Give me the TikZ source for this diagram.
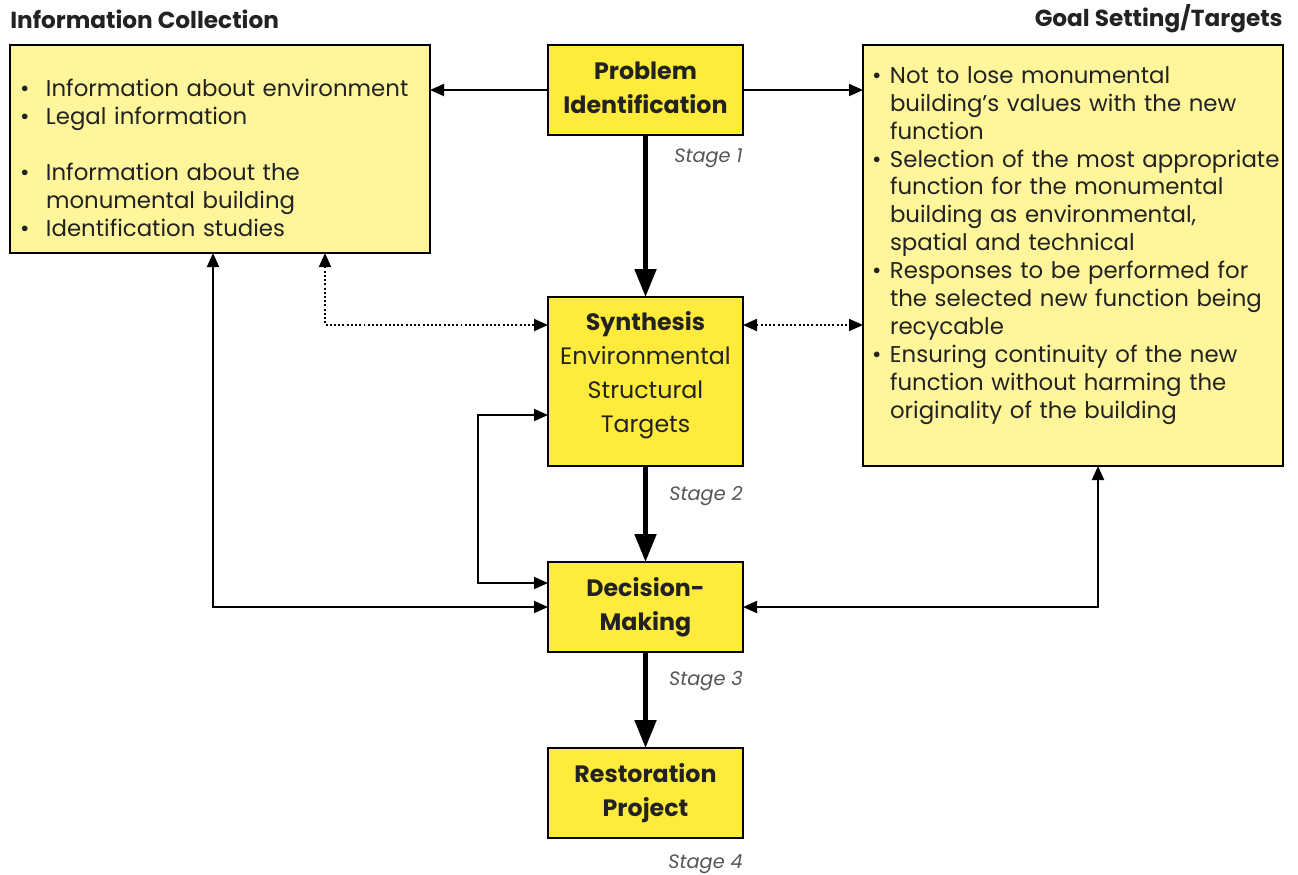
\documentclass[tikz,border=0pt]{standalone}
\usepackage{fontspec}
\setmainfont{Poppins}
\usetikzlibrary{arrows.meta, positioning}
\definecolor{boxyellow}{HTML}{FFEB3B}
\definecolor{paleyellow}{HTML}{FFF59A}
\definecolor{inktext}{HTML}{222222}
\definecolor{stagegray}{HTML}{555555}
\newcommand{\bul}[1]{\makebox[#1][l]{\textbullet}}
\tikzstyle{stagebox} = [rectangle, minimum width=3.9cm, minimum height=1.8cm, align=center, draw=black, line width=1.3pt, fill=boxyellow, text=inktext, inner sep=0pt, outer sep=0pt, font=\fontsize{13.5}{19.5}\selectfont]
\tikzstyle{boldbox} = [stagebox, font=\fontsize{13.5}{19.5}\selectfont\bfseries]
\tikzstyle{listbox} = [rectangle, minimum width=8.4cm, text width=8.4cm, align=left, draw=black, line width=1.3pt, fill=paleyellow, text=inktext, anchor=north west, inner ysep=0pt, outer sep=0pt, font=\fontsize{13}{15.9}\selectfont]
\tikzstyle{title} = [inner sep=0pt, text=inktext, font=\fontsize{13.2}{15}\selectfont\bfseries]
\tikzstyle{stagelabel} = [inner sep=0pt, text=stagegray, font=\fontsize{11}{13}\selectfont\itshape]
\tikzstyle{arrow} = [line width=1.1pt, ->, >={Triangle[length=0.28cm,width=0.24cm]}]
\tikzstyle{dotarrow} = [arrow, <->, dash pattern=on 1.1pt off 1.3pt]
\tikzstyle{bigarrow} = [line width=2.8pt, -{Triangle[length=0.56cm,width=0.42cm]}]

\begin{document}
\begin{tikzpicture}
\useasboundingbox (0,0) rectangle (25.96,-17.48);

% Nodes
\node (infotitle) [title, anchor=west] at (0.2,-0.38) {Information Collection};
\node (goaltitle) [title, anchor=east] at (25.66,-0.38) {Goal Setting/Targets};

\node (info) [listbox, minimum height=4.16cm, text width=8.0cm, inner xsep=0.2cm] at (0.2,-0.9) {\rule{0pt}{0.7cm}%
\bul{0.52cm}Information about environment\\
\bul{0.52cm}Legal information\\[15.9pt]
\bul{0.52cm}Information about the\\
\hspace*{0.52cm}monumental building\\
\bul{0.52cm}Identification studies};

\node (goal) [listbox, minimum height=8.42cm, text width=8.04cm, inner xsep=0.18cm] at (17.26,-0.9) {%
\bul{0.36cm}Not to lose monumental\\
\hspace*{0.36cm}building's values with the new\\
\hspace*{0.36cm}function\\
\bul{0.36cm}\mbox{Selection of the most appropriate}\\
\hspace*{0.36cm}function for the monumental\\
\hspace*{0.36cm}building as environmental,\\
\hspace*{0.36cm}spatial and technical\\
\bul{0.36cm}Responses to be performed for\\
\hspace*{0.36cm}the selected new function being\\
\hspace*{0.36cm}recycable\\
\bul{0.36cm}Ensuring continuity of the new\\
\hspace*{0.36cm}function without harming the\\
\hspace*{0.36cm}originality of the building\vspace*{0.4cm}};

\node (prob) [boldbox] at (12.91,-1.8) {Problem\\Identification\rule[-0.1cm]{0pt}{0.1cm}};
\node (synth) [stagebox, minimum height=3.38cm, below=3.24cm of prob] {{\bfseries Synthesis}\\Environmental\\Structural\\Targets\rule[-0.38cm]{0pt}{0.38cm}};
\node (dec) [boldbox, below=1.92cm of synth] {Decision-\\Making};
\node (rest) [boldbox, below=1.92cm of dec] {Restoration\\Project};

\node (st1) [stagelabel, below left=0.27cm and 0cm of prob.south east] {Stage 1};
\node (st2) [stagelabel, below left=0.4cm and 0cm of synth.south east] {Stage 2};
\node (st3) [stagelabel, below left=0.38cm and 0cm of dec.south east] {Stage 3};
\node (st4) [stagelabel, below left=0.33cm and 0cm of rest.south east] {Stage 4};

% Arrows
\draw [bigarrow] (prob) -- (synth);
\draw [bigarrow] (synth) -- (dec);
\draw [bigarrow] (dec) -- (rest);
\draw [arrow] (prob.west) -- (prob.west -| info.east);
\draw [arrow] (prob.east) -- (prob.east -| goal.west);

\coordinate (synthin) at ([yshift=-0.56cm]synth.north west);
\coordinate (synthout) at ([yshift=-0.56cm]synth.north east);
\coordinate (infodot) at ([xshift=6.3cm]info.south west);
\draw [dotarrow] (infodot) |- (synthin);
\draw [dotarrow] (synthout) -- (synthout -| goal.west);

\coordinate (loopa) at ([yshift=-2.36cm]synth.north west);
\coordinate (loopb) at ([yshift=-0.42cm]dec.north west);
\draw [arrow, <->] (loopa) -- ++(-1.4,0) |- (loopb);

\coordinate (infoline) at ([xshift=4.06cm]info.south west);
\draw [arrow, <->] (infoline) |- (dec.west);
\coordinate (goalline) at ([xshift=4.7cm]goal.south west);
\draw [arrow, <->] (dec.east) -| (goalline);

\end{tikzpicture}
\end{document}
